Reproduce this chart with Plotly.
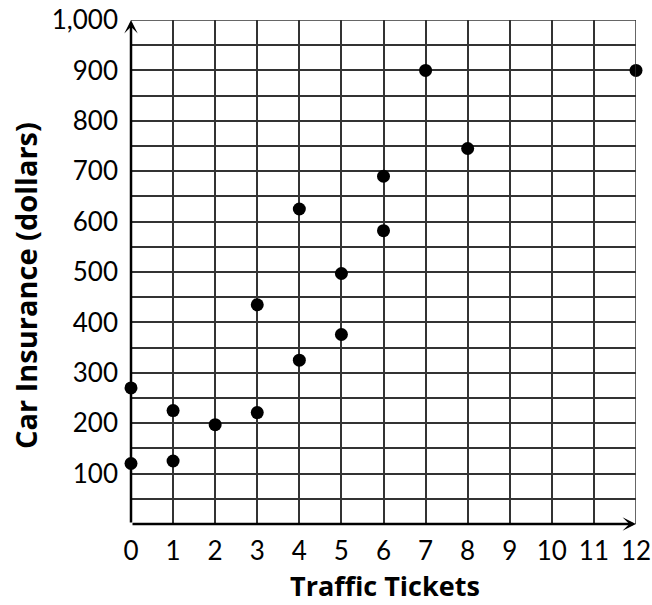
import plotly.graph_objects as go

tickets = [0, 0, 1, 1, 2, 3, 3, 4, 4, 5, 5, 6, 6, 7, 8, 12]
insurance = [270, 120, 225, 125, 197, 221, 435, 325, 625, 376, 497, 582, 690, 900, 745, 900]

x_ticks = list(range(0, 13))
y_ticks = list(range(100, 1001, 100))
y_labels = [f"{v:,}" for v in y_ticks]

FONT = "Lato"
TITLE_FONT = "Open Sans"
GRID = "#333333"

fig = go.Figure()
fig.add_trace(go.Scatter(
    x=tickets, y=insurance, mode="markers",
    marker=dict(color="black", size=13),
    cliponaxis=False, showlegend=False,
))

fig.update_layout(
    width=652, height=605,
    margin=dict(l=131, r=16, t=20, b=81),
    paper_bgcolor="white", plot_bgcolor="white",
    font=dict(family=FONT, color="black", size=26),
    xaxis=dict(
        range=[0, 12], tickvals=x_ticks, ticktext=[str(v) for v in x_ticks],
        showgrid=True, gridcolor=GRID, gridwidth=1.5,
        zeroline=False, showline=False, ticks="", ticklen=0,
        tickfont=dict(size=26, family=FONT), ticklabelstandoff=9,
        ticklabeloverflow="allow",
        automargin=False, fixedrange=True,
    ),
    yaxis=dict(
        range=[0, 1000], tickvals=y_ticks, ticktext=y_labels,
        showgrid=True, gridcolor=GRID, gridwidth=1.5,
        minor=dict(dtick=50, tick0=0, showgrid=True, gridcolor=GRID, gridwidth=1.5),
        zeroline=False, showline=False, ticks="",
        tickfont=dict(size=26, family=FONT), ticklabelstandoff=12,
        ticklabeloverflow="allow",
        automargin=False, fixedrange=True,
    ),
)

# axis titles
fig.add_annotation(text="<b>Traffic Tickets</b>", xref="paper", yref="paper",
                   x=0.503, y=-0.123, yanchor="middle", xanchor="center",
                   showarrow=False, borderpad=0, font=dict(size=27, family=TITLE_FONT))
fig.add_annotation(text="<b>Car Insurance (dollars)</b>", xref="paper", yref="paper",
                   x=-0.21, y=0.474, xanchor="center", yanchor="middle", textangle=-90,
                   showarrow=False, borderpad=0, font=dict(size=29, family=TITLE_FONT))

# right and top border grid lines
fig.add_shape(type="line", xref="x", yref="y", x0=12, x1=12, y0=0, y1=1000,
              line=dict(color=GRID, width=1.5))
fig.add_shape(type="line", xref="x", yref="y", x0=0, x1=12, y0=1000, y1=1000,
              line=dict(color=GRID, width=1.5))

# axes with arrowheads
fig.add_annotation(x=0, y=1000, ax=0, ay=0, xref="x", yref="y", axref="x", ayref="y",
                   showarrow=True, arrowhead=3, arrowsize=0.9, arrowwidth=2.5,
                   arrowcolor="black", text="")
fig.add_annotation(x=12, y=0, ax=0, ay=0, xref="x", yref="y", axref="x", ayref="y",
                   showarrow=True, arrowhead=3, arrowsize=0.9, arrowwidth=2.5,
                   arrowcolor="black", text="")

fig.write_html("out.html", config={"displayModeBar": False},
               post_script="document.body.style.margin='0';")
